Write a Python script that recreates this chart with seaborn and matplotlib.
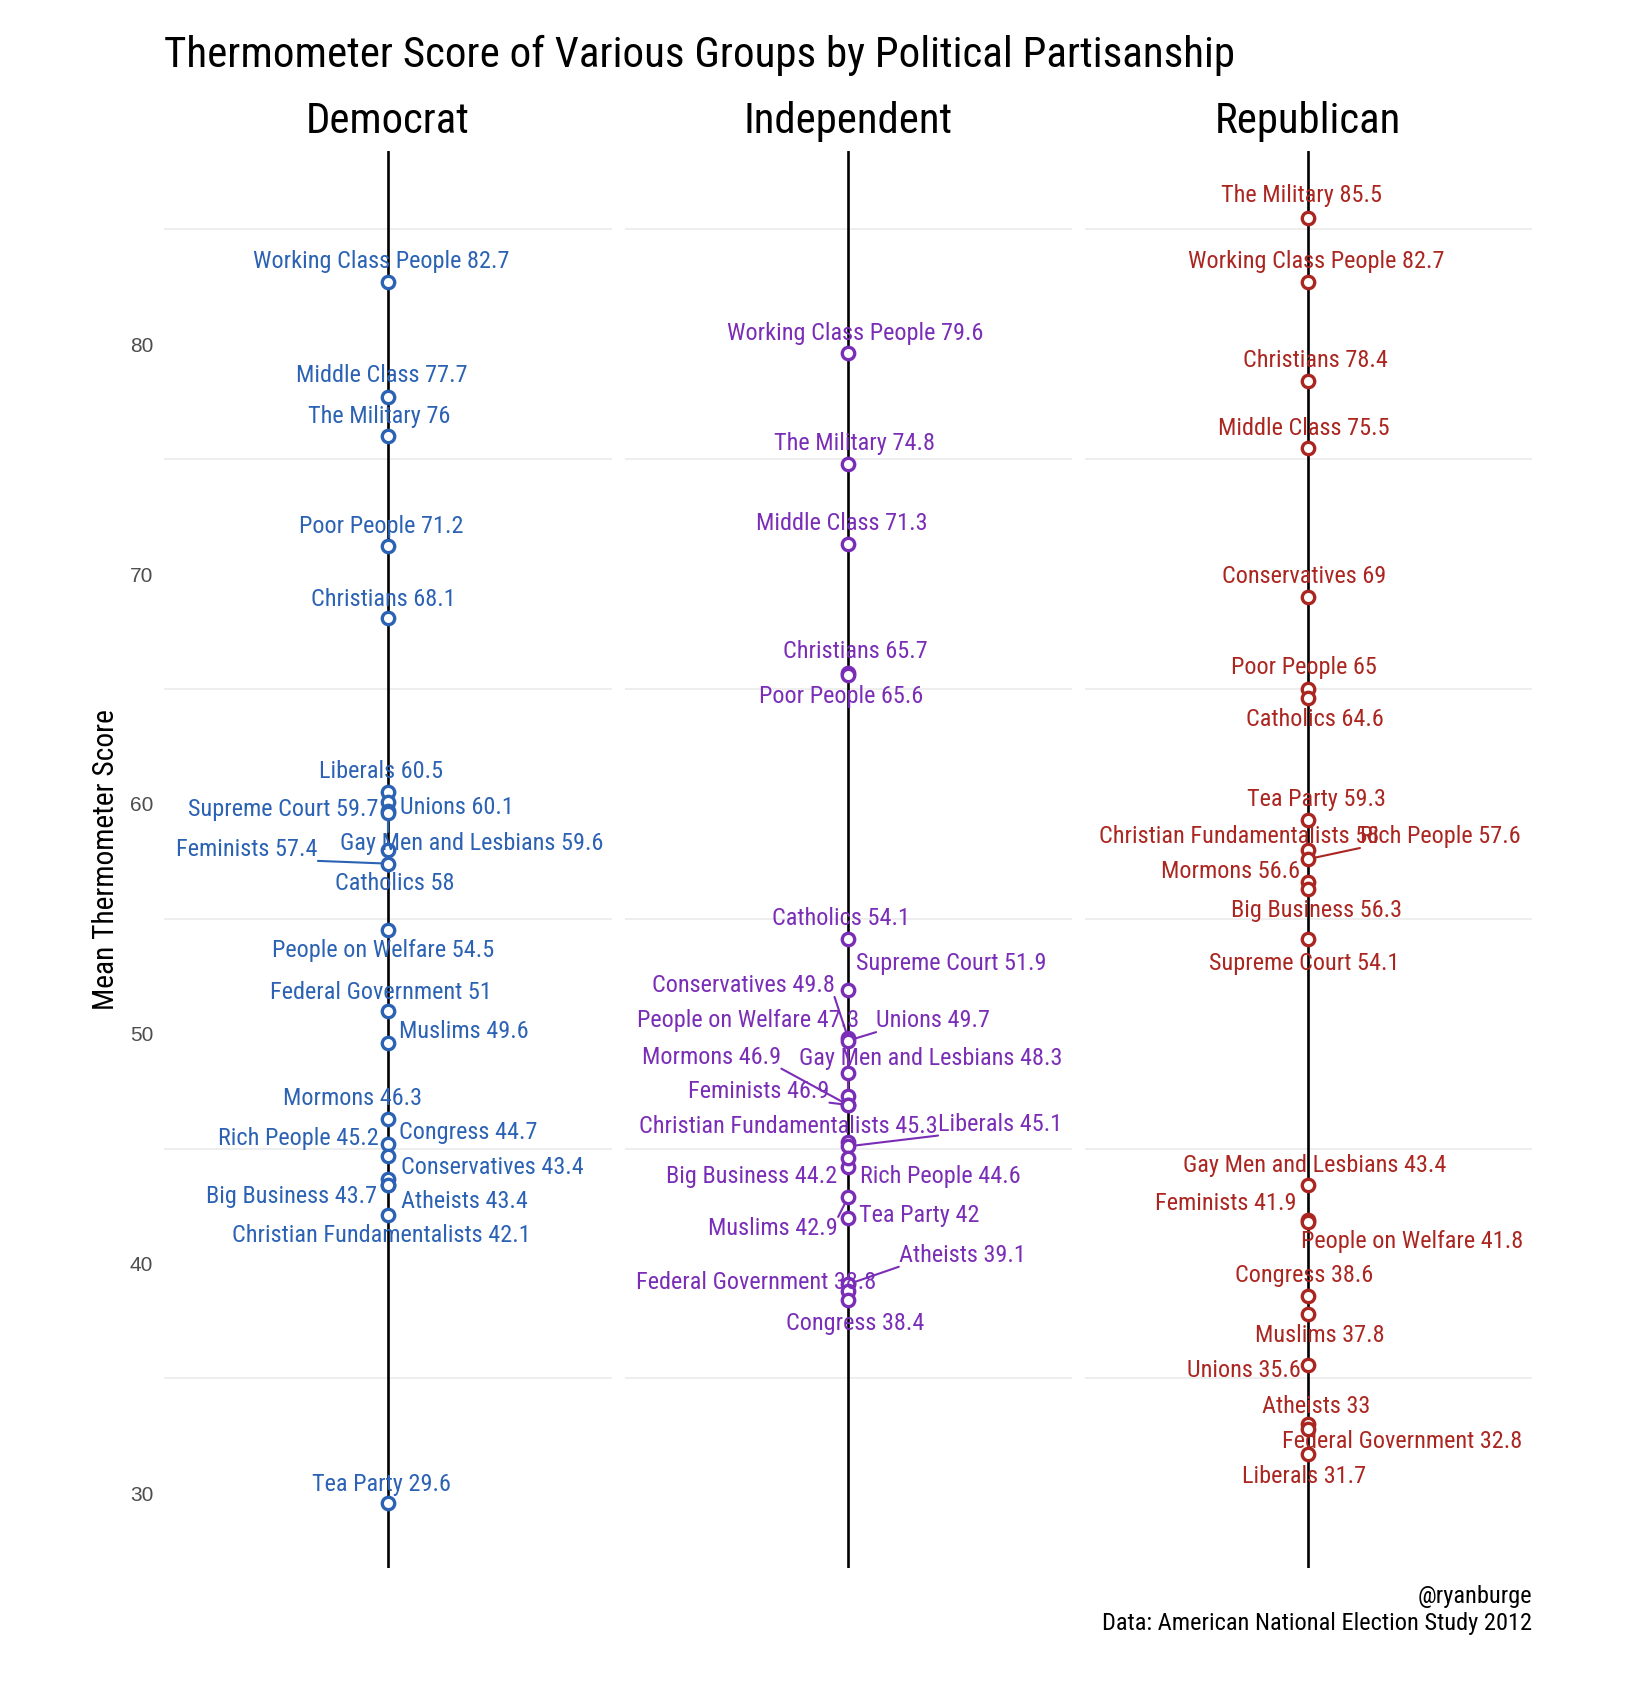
import numpy as np
import pandas as pd
import matplotlib.pyplot as plt
import seaborn as sns

# Daten
parties = ['Democrat', 'Independent', 'Republican']
colors = ['#2b62b4', '#7a2db6', '#ab2620']

dem_groups = ['Working Class People', 'Middle Class', 'The Military', 'Poor People', 'Christians',
              'Liberals', 'Unions', 'Supreme Court', 'Gay Men and Lesbians', 'Catholics', 'Feminists',
              'People on Welfare', 'Federal Government', 'Muslims', 'Mormons', 'Rich People', 'Congress',
              'Conservatives', 'Big Business', 'Atheists', 'Christian Fundamentalists', 'Tea Party']
dem_scores = [82.7, 77.7, 76, 71.2, 68.1, 60.5, 60.1, 59.7, 59.6, 58, 57.4,
              54.5, 51, 49.6, 46.3, 45.2, 44.7, 43.4, 43.7, 43.4, 42.1, 29.6]

ind_groups = ['Working Class People', 'The Military', 'Middle Class', 'Christians', 'Poor People',
              'Catholics', 'Supreme Court', 'Conservatives', 'People on Welfare', 'Unions', 'Mormons',
              'Gay Men and Lesbians', 'Feminists', 'Christian Fundamentalists', 'Liberals', 'Big Business',
              'Rich People', 'Muslims', 'Tea Party', 'Atheists', 'Federal Government', 'Congress']
ind_scores = [79.6, 74.8, 71.3, 65.7, 65.6, 54.1, 51.9, 49.8, 47.3, 49.7, 46.9,
              48.3, 46.9, 45.3, 45.1, 44.2, 44.6, 42.9, 42, 39.1, 38.8, 38.4]

rep_groups = ['The Military', 'Working Class People', 'Christians', 'Middle Class', 'Conservatives',
              'Poor People', 'Catholics', 'Tea Party', 'Christian Fundamentalists', 'Rich People', 'Mormons',
              'Big Business', 'Supreme Court', 'Gay Men and Lesbians', 'Feminists', 'People on Welfare',
              'Congress', 'Muslims', 'Unions', 'Atheists', 'Federal Government', 'Liberals']
rep_scores = [85.5, 82.7, 78.4, 75.5, 69, 65, 64.6, 59.3, 58, 57.6, 56.6,
              56.3, 54.1, 43.4, 41.9, 41.8, 38.6, 37.8, 35.6, 33, 32.8, 31.7]

# Verschiebung der Beschriftungen (wie ggrepel)
dem_dx = [-0.03, -0.03, -0.04, -0.03, -0.02, -0.03, 0.31, -0.47, 0.375, 0.03, -0.63,
          -0.02, -0.03, 0.34, -0.16, -0.40, 0.36, 0.465, -0.43, 0.34, -0.03, -0.03]
dem_dy = [0.9, 0.94, 0.86, 0.88, 0.8, 0.9, -0.25, 0.06, -1.34, -1.48, 0.62,
          -0.88, 0.8, 0.5, 0.9, 0.22, 1.0, 0.8, -0.77, -0.7, -0.9, 0.8]
ind_dx = [0.03, 0.03, -0.03, 0.03, -0.03, -0.03, 0.46, -0.47, -0.45, 0.38, -0.61,
          0.37, -0.40, -0.27, 0.68, -0.43, 0.41, -0.335, 0.32, 0.51, -0.41, 0.03]
ind_dy = [0.87, 0.9, 0.9, 0.94, -0.92, 0.9, 1.16, 2.3, 3.27, 0.87, 2.08,
          0.6, 0.6, 0.68, 0.97, -0.42, -0.82, -1.37, 0.09, 1.26, 0.38, -1.0]
rep_dx = [-0.03, 0.036, 0.03, -0.02, -0.02, -0.02, 0.03, 0.035, -0.31, 0.59, -0.35,
          0.036, -0.02, 0.03, -0.37, 0.465, -0.02, 0.05, -0.29, 0.036, 0.42, -0.02]
rep_dy = [0.97, 0.9, 0.9, 0.85, 0.88, 0.94, -0.95, 0.9, 0.58, 0.98, 0.44,
          -0.95, -1.04, 0.85, 0.7, -0.84, 0.87, -0.95, -0.26, 0.8, -0.55, -0.95]

frames = []
for party, g, s, dx, dy in zip(parties,
                               [dem_groups, ind_groups, rep_groups],
                               [dem_scores, ind_scores, rep_scores],
                               [dem_dx, ind_dx, rep_dx],
                               [dem_dy, ind_dy, rep_dy]):
    frames.append(pd.DataFrame({'party': party, 'group': g, 'score': s, 'dx': dx, 'dy': dy}))
df = pd.concat(frames, ignore_index=True)

sns.set_style('white')
plt.rcParams['font.family'] = ['Roboto Condensed', 'Roboto', 'DejaVu Sans']
plt.rcParams['font.stretch'] = 'condensed'

fig, axes = plt.subplots(1, 3, figsize=(16.28, 16.82), dpi=100, sharey=True)
fig.subplots_adjust(left=0.101, right=0.941, top=0.910, bottom=0.068, wspace=0.029)

texts = []
strips = []
for ax, party, col in zip(axes, parties, colors):
    sub = df[df['party'] == party]
    for yg in [35, 45, 55, 65, 75, 85]:
        ax.axhline(yg, color='#ebebeb', lw=1.2, zorder=0)
    ax.axvline(0, color='black', lw=1.9, zorder=1)
    sns.scatterplot(data=sub, x='party', y='score', ax=ax, marker='o', s=80,
                    facecolor='white', edgecolor=col, linewidth=2.4, zorder=3)
    for _, r in sub.iterrows():
        t = ax.text(r['dx'], r['score'] + r['dy'], f"{r['group']} {r['score']:g}",
                    color=col, fontsize=17, ha='center', va='center', zorder=5)
        texts.append((ax, t, r['score'], col))
    ax.set_xlim(-1, 1)
    ax.set_ylim(26.77, 88.39)
    ax.set_xlabel('')
    ax.set_ylabel('')
    ax.set_xticks([])
    strips.append(ax.text(0.5, 1.0212, party, transform=ax.transAxes, ha='center',
                          va='center', fontsize=32, color='black'))
    for sp in ax.spines.values():
        sp.set_visible(False)

axes[0].set_yticks([30, 40, 50, 60, 70, 80])
axes[0].tick_params(axis='y', length=0, pad=8, labelsize=15, labelcolor='#4d4d4d')
for lab in axes[0].get_yticklabels():
    lab.set_family(['Liberation Sans', 'DejaVu Sans'])
    lab.set_stretch('normal')

title = fig.text(0.101, 0.967, 'Thermometer Score of Various Groups by Political Partisanship',
                 ha='left', va='center', fontsize=31, color='black')
ylab = fig.text(0.065, 0.489, 'Mean Thermometer Score', rotation=90, ha='center', va='center',
                fontsize=22, color='black')
cap1 = fig.text(0.941, 0.0511, '@ryanburge', ha='right', va='center', fontsize=18, color='black')
cap2 = fig.text(0.941, 0.0345, 'Data: American National Election Study 2012', ha='right',
                va='center', fontsize=18, color='black')

# Schriftgrößen an die Breiten der Vorlage anpassen
fig.canvas.draw()
renderer = fig.canvas.get_renderer()


def fit_scale(t, target, use_height=False):
    bb = t.get_window_extent(renderer)
    size = bb.height if use_height else bb.width
    return target / size


k = fit_scale(title, 1071)
title.set_fontsize(title.get_fontsize() * k)
k = fit_scale(strips[0], 164)
for st in strips:
    st.set_fontsize(st.get_fontsize() * k)
k = fit_scale(texts[0][1], 256)
for _, t, _, _ in texts:
    t.set_fontsize(t.get_fontsize() * k)
k = fit_scale(cap2, 431)
cap1.set_fontsize(cap1.get_fontsize() * k)
cap2.set_fontsize(cap2.get_fontsize() * k)
k = fit_scale(ylab, 302, use_height=True)
ylab.set_fontsize(ylab.get_fontsize() * k)

fig.canvas.draw()
renderer = fig.canvas.get_renderer()

# Verbindungslinien für weit entfernte Beschriftungen
for ax, t, score, col in texts:
    bb = t.get_window_extent(renderer)
    px, py = ax.transData.transform((0, score))
    cx = min(max(px, bb.x0), bb.x1)
    cy = min(max(py, bb.y0), bb.y1)
    d = np.hypot(cx - px, cy - py)
    if d > 18:
        inv = ax.transData.inverted()
        (x0, y0), (x1, y1) = inv.transform([(px, py), (cx, cy)])
        ax.plot([x0, x1], [y0, y1], color=col, lw=1.5, zorder=2)

fig.savefig('out.png', dpi=100)
